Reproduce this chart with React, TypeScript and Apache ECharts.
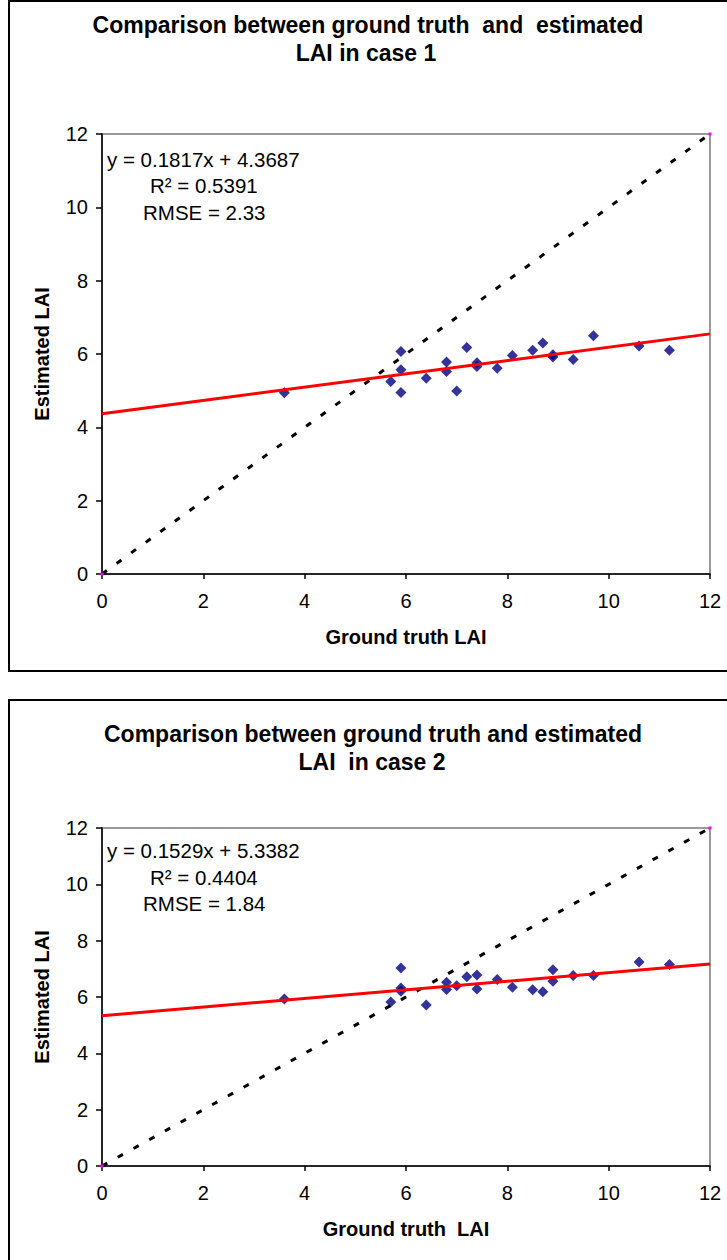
import React, { useEffect, useRef } from "react";
import * as echarts from "echarts";

// ---- data ----
const groundTruth1 = [3.6, 5.7, 5.9, 5.9, 5.9, 6.4, 6.8, 6.8, 7.0, 7.2, 7.4, 7.4, 7.8, 8.1, 8.5, 8.7, 8.9, 8.9, 9.3, 9.7, 10.6, 11.2];
const estimated1 = [4.94, 5.25, 6.07, 5.57, 4.95, 5.34, 5.78, 5.52, 4.99, 6.18, 5.76, 5.66, 5.61, 5.96, 6.1, 6.3, 5.98, 5.92, 5.85, 6.5, 6.22, 6.1];
const groundTruth2 = [3.6, 5.7, 5.9, 5.9, 5.9, 6.4, 6.8, 6.8, 7.0, 7.2, 7.4, 7.4, 7.8, 8.1, 8.5, 8.7, 8.9, 8.9, 9.3, 9.7, 10.6, 11.2];
const estimated2 = [5.93, 5.82, 7.03, 6.32, 6.2, 5.72, 6.52, 6.27, 6.4, 6.72, 6.78, 6.28, 6.62, 6.35, 6.26, 6.19, 6.97, 6.56, 6.76, 6.76, 7.24, 7.15];

const trendX = [0, 12];
const trend1Y = [4.3687, 6.5491];
const trend2Y = [5.3382, 7.173];
const oneToOne = [0, 12];

const titles1 = ["Comparison between ground truth  and  estimated", "LAI in case 1"];
const titles2 = ["Comparison between ground truth and estimated", "LAI  in case 2"];
const stats1 = ["y = 0.1817x + 4.3687", "R\u00b2 = 0.5391", "RMSE = 2.33"];
const stats2 = ["y = 0.1529x + 5.3382", "R\u00b2 = 0.4404", "RMSE = 1.84"];
const xName1 = "Ground truth LAI";
const xName2 = "Ground truth  LAI";
const yName = "Estimated LAI";

const FONT = '"Liberation Sans", Arial, sans-serif';

const pairs = (xs: number[], ys: number[]) => xs.map((x, i) => [x, ys[i]]);

export default function App() {
  const ref = useRef<HTMLDivElement>(null);
  useEffect(() => {
    if (!ref.current) return;
    const chart = echarts.init(ref.current, undefined, { renderer: "svg" });

    const xAxisBase = (gridIndex: number, name: string) => ({
      type: "value",
      gridIndex,
      min: 0,
      max: 12,
      interval: 2,
      name,
      nameLocation: "middle",
      nameGap: 53,
      nameTextStyle: { fontFamily: FONT, fontSize: 20, fontWeight: "bold", color: "#000" },
      axisLine: { show: true, onZero: false, lineStyle: { color: "#000", width: 1.5 } },
      axisTick: { show: true, inside: false, length: 5, lineStyle: { color: "#000", width: 1.5 } },
      axisLabel: { fontFamily: FONT, fontSize: 20, color: "#000", margin: 17 },
      splitLine: { show: false },
    });
    const yAxisBase = (gridIndex: number) => ({
      type: "value",
      gridIndex,
      min: 0,
      max: 12,
      interval: 2,
      name: yName,
      nameLocation: "middle",
      nameGap: 50,
      nameRotate: 90,
      nameTextStyle: { fontFamily: FONT, fontSize: 20, fontWeight: "bold", color: "#000" },
      axisLine: { show: true, onZero: false, lineStyle: { color: "#000", width: 1.5 } },
      axisTick: { show: true, inside: false, length: 6, lineStyle: { color: "#000", width: 1.5 } },
      axisLabel: { fontFamily: FONT, fontSize: 20, color: "#000", margin: 14 },
      splitLine: { show: false },
    });

    const seriesFor = (idx: number, xs: number[], ys: number[], ty: number[]) => [
      {
        type: "scatter",
        xAxisIndex: idx,
        yAxisIndex: idx,
        symbol: "diamond",
        symbolSize: 11,
        itemStyle: { color: "#000080" },
        data: pairs(xs, ys),
        z: 2,
      },
      {
        type: "line",
        xAxisIndex: idx,
        yAxisIndex: idx,
        showSymbol: true,
        symbol: "rect",
        symbolSize: 3,
        itemStyle: { color: "#ff00ff" },
        lineStyle: { color: "#000", width: 3, type: [6, 12] },
        data: pairs(oneToOne, oneToOne),
        z: 3,
      },
      {
        type: "line",
        xAxisIndex: idx,
        yAxisIndex: idx,
        showSymbol: false,
        lineStyle: { color: "#ff0000", width: 3 },
        data: pairs(trendX, ty),
        z: 4,
      },
    ];

    const textEl = (text: string, x: number, y: number, font: string, align = "left") => ({
      type: "text",
      style: { text, x, y, font, align, verticalAlign: "middle", fill: "#000" },
      z: 10,
    });

    const titleFont = `bold 23px ${FONT}`;
    const statFont = `20.5px ${FONT}`;

    chart.setOption({
      animation: false,
      backgroundColor: "#fff",
      grid: [
        { left: 102, top: 134, width: 608, height: 440, show: true, borderColor: "#999", borderWidth: 2, backgroundColor: "transparent" },
        { left: 102, top: 828, width: 608, height: 338, show: true, borderColor: "#999", borderWidth: 2, backgroundColor: "transparent" },
      ],
      xAxis: [xAxisBase(0, xName1), xAxisBase(1, xName2)],
      yAxis: [yAxisBase(0), yAxisBase(1)],
      series: [...seriesFor(0, groundTruth1, estimated1, trend1Y), ...seriesFor(1, groundTruth2, estimated2, trend2Y)],
      graphic: [
        { type: "rect", shape: { x: 9, y: 1, width: 740, height: 670 }, style: { fill: "none", stroke: "#000", lineWidth: 2 }, silent: true },
        { type: "rect", shape: { x: 9, y: 700, width: 740, height: 600 }, style: { fill: "none", stroke: "#000", lineWidth: 2 }, silent: true },
        textEl(titles1[0], 368, 25, titleFont, "center"),
        textEl(titles1[1], 366, 53, titleFont, "center"),
        textEl(titles2[0], 373, 734, titleFont, "center"),
        textEl(titles2[1], 372, 762, titleFont, "center"),
        textEl(stats1[0], 107, 159, statFont),
        textEl(stats1[1], 150, 185, statFont),
        textEl(stats1[2], 143, 212, statFont),
        textEl(stats2[0], 107, 850, statFont),
        textEl(stats2[1], 150, 877, statFont),
        textEl(stats2[2], 143, 903, statFont),
      ],
    });
    return () => chart.dispose();
  }, []);
  return <div ref={ref} style={{ position: "absolute", left: 0, top: 0, width: 727, height: 1260 }} />;
}
